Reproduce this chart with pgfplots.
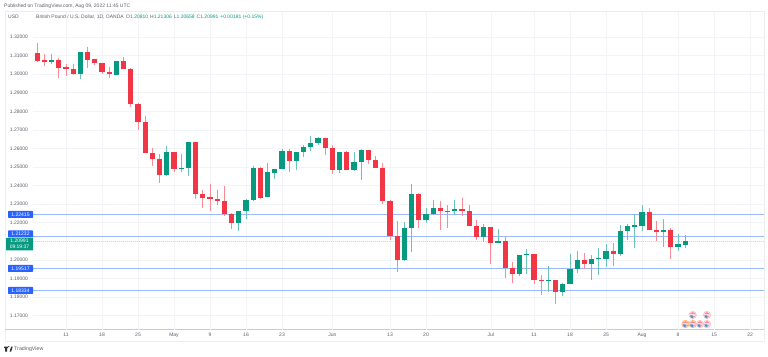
\documentclass[border=0pt]{standalone}
\usepackage{fontspec}
\setmainfont{Liberation Sans}
\usepackage{pgfplots}
\usepackage{pgfplotstable}
\pgfplotsset{compat=1.18}
\definecolor{tvred}{HTML}{F23645}
\definecolor{tvgreen}{HTML}{089981}
\definecolor{tvredw}{HTML}{F98A95}
\definecolor{tvgreenw}{HTML}{6CC4B4}
\definecolor{tvblue}{HTML}{2962FF}
\definecolor{tvline}{HTML}{9DB8FF}
\definecolor{tvgrid}{HTML}{F3F4F7}
\definecolor{tvtext}{HTML}{5D606B}
\definecolor{tvframe}{HTML}{EBEDF1}
\pgfplotstableread{
i o h l c
-2 1.3065 1.3106 1.3053 1.3074
2 1.3000 1.3117 1.2973 1.3117
7 1.2997 1.3069 1.2995 1.3069
14 1.2457 1.2615 1.2454 1.2578
16 1.2490 1.2569 1.2472 1.2497
17 1.2495 1.2637 1.2452 1.2637
24 1.2199 1.2262 1.2157 1.2262
25 1.2262 1.2330 1.2218 1.2321
26 1.2321 1.2503 1.2315 1.2495
28 1.2338 1.2524 1.2338 1.2471
29 1.2470 1.2491 1.2437 1.2491
30 1.2489 1.2599 1.2489 1.2588
32 1.2533 1.2583 1.2482 1.2583
33 1.2581 1.2617 1.2554 1.2608
34 1.2606 1.2667 1.2587 1.2631
35 1.2628 1.2662 1.2617 1.2655
38 1.2482 1.2579 1.2470 1.2579
40 1.2486 1.2578 1.2479 1.2529
41 1.2529 1.2599 1.2432 1.2590
47 1.1997 1.2203 1.1991 1.2173
48 1.2171 1.2407 1.2042 1.2353
50 1.2214 1.2281 1.2198 1.2248
51 1.2248 1.2324 1.2239 1.2277
54 1.2261 1.2320 1.2239 1.2275
58 1.2123 1.2191 1.2096 1.2178
60 1.2090 1.2164 1.2090 1.2099
63 1.1923 1.2026 1.1914 1.2026
64 1.2024 1.2056 1.1922 1.2033
67 1.1886 1.1968 1.1828 1.1889
69 1.1826 1.1875 1.1803 1.1869
70 1.1868 1.2033 1.1868 1.1950
71 1.1950 1.2046 1.1927 1.1999
73 1.1979 1.2028 1.1891 1.2002
74 1.2002 1.2065 1.1916 1.2008
75 1.2006 1.2087 1.1959 1.2049
77 1.2029 1.2186 1.2022 1.2157
78 1.2155 1.2191 1.2105 1.2181
79 1.2175 1.2245 1.2065 1.2186
80 1.2182 1.2294 1.2157 1.2256
83 1.2148 1.2218 1.2067 1.2159
85 1.2067 1.2139 1.2047 1.2083
86 1.2081 1.2131 1.2066 1.2099
}\upcandles
\pgfplotstableread{
i o h l c
-4 1.3115 1.3169 1.3067 1.3072
-3 1.3074 1.3106 1.3045 1.3065
-1 1.3074 1.3087 1.2982 1.3035
0 1.3036 1.3056 1.2990 1.3027
1 1.3029 1.3056 1.2995 1.3000
3 1.3117 1.3146 1.3033 1.3076
4 1.3080 1.3080 1.3051 1.3058
5 1.3058 1.3058 1.3002 1.3009
6 1.3011 1.3040 1.2982 1.2999
8 1.3069 1.3090 1.3026 1.3026
9 1.3027 1.3035 1.2824 1.2838
10 1.2838 1.2844 1.2698 1.2741
11 1.2741 1.2774 1.2574 1.2574
12 1.2574 1.2601 1.2504 1.2545
13 1.2545 1.2571 1.2414 1.2459
15 1.2578 1.2578 1.2473 1.2490
18 1.2637 1.2637 1.2328 1.2355
19 1.2357 1.2378 1.2278 1.2335
20 1.2337 1.2407 1.2262 1.2328
21 1.2330 1.2377 1.2294 1.2317
22 1.2317 1.2400 1.2238 1.2245
23 1.2249 1.2254 1.2168 1.2199
27 1.2493 1.2502 1.2331 1.2335
31 1.2588 1.2599 1.2473 1.2533
36 1.2655 1.2655 1.2563 1.2601
37 1.2601 1.2617 1.2461 1.2484
39 1.2579 1.2587 1.2486 1.2486
42 1.2590 1.2594 1.2515 1.2536
43 1.2536 1.2560 1.2493 1.2493
44 1.2497 1.2522 1.2302 1.2315
45 1.2317 1.2320 1.2108 1.2130
46 1.2130 1.2209 1.1935 1.1997
49 1.2353 1.2362 1.2171 1.2214
52 1.2277 1.2315 1.2162 1.2263
53 1.2263 1.2293 1.2171 1.2257
55 1.2275 1.2331 1.2236 1.2265
56 1.2265 1.2293 1.2182 1.2182
57 1.2182 1.2212 1.2108 1.2123
59 1.2178 1.2178 1.1975 1.2090
61 1.2100 1.2125 1.1900 1.1958
62 1.1958 1.1990 1.1877 1.1923
65 1.2033 1.2033 1.1869 1.1889
66 1.1891 1.1916 1.1810 1.1884
68 1.1889 1.1889 1.1762 1.1826
72 1.1999 1.2038 1.1952 1.1979
76 1.2049 1.2091 1.1965 1.2029
81 1.2256 1.2281 1.2161 1.2161
82 1.2163 1.2208 1.2100 1.2148
84 1.2159 1.2170 1.2003 1.2067
}\downcandles
\newcommand{\flag}[3]{%
  \fill[#3] (#1,#2) circle (4);
  \fill[white] (#1,#2) circle (3.3);
  \fill[tvred!55] (#1,#2) circle (2.9);
  \fill[white!60!tvred!50] (#1-2.6,#2+0.4) rectangle (#1+2.6,#2+1);
  \fill[white!60!tvred!50] (#1-2.6,#2-1) rectangle (#1+2.6,#2-0.4);
  \fill[blue!45!cyan!80!black!75] (#1-2.7,#2+0.4) arc (180:90:2.9) -- (#1,#2+0.4) -- cycle;
}
\begin{document}
\begin{tikzpicture}
\useasboundingbox (0,0) rectangle (768pt,356pt);
\fill[white] (0,0) rectangle (768pt,356pt);
\begin{scope}[x=1pt,y=-1pt,shift={(0,356pt)}]
\draw[tvframe,line width=0.6pt] (5,11.5) rectangle (764,341);
\draw[tvframe!70!gray,line width=0.6pt] (5,329.5) -- (764,329.5);
\end{scope}
\begin{axis}[
  at={(33pt,26.5pt)},anchor=south west,
  scale only axis,width=731pt,height=317.5pt,
  xmin=-4.583,xmax=96.94,ymin=1.16244,ymax=1.33349,
  axis line style={draw=none},
  major tick length=0pt,
  grid=major,grid style={tvgrid,line width=0.5pt},
  xtick={0,5,10,15,20,25,30,37,45,50,59,65,70,75,80,85,90,95},
  xticklabels={11,18,25,May,9,16,23,Jun,13,20,Jul,11,18,25,Aug,8,15,22},
  ytick={1.17,1.18,1.19,1.20,1.21,1.22,1.23,1.24,1.25,1.26,1.27,1.28,1.29,1.30,1.31,1.32},
  yticklabels={1.17000,1.18000,1.19000,1.20000,,1.22000,1.23000,1.24000,1.25000,1.26000,1.27000,1.28000,1.29000,1.30000,1.31000,1.32000},
  ticklabel style={font=\fontsize{5}{6}\selectfont,text=tvtext},
  yticklabel style={anchor=east,xshift=-1.5pt},
  xticklabel style={anchor=center,yshift=-5.5pt},
]
% horizontal levels
\addplot[tvline,line width=1pt,forget plot] coordinates {(-4.583,1.22415) (96.94,1.22415)};
\addplot[tvline,line width=1pt,forget plot] coordinates {(-4.583,1.21232) (96.94,1.21232)};
\addplot[tvline,line width=1pt,forget plot] coordinates {(-4.583,1.19517) (96.94,1.19517)};
\addplot[tvline,line width=1pt,forget plot] coordinates {(-4.583,1.18334) (96.94,1.18334)};
\addplot[tvgreen!25,densely dotted,line width=1pt,forget plot] coordinates {(-4.583,1.2100) (96.94,1.2100)};
% wicks
\addplot[draw=none,mark=none,forget plot,error bars/.cd,y dir=both,y explicit,error mark=none,
  error bar style={tvgreenw,line width=0.8pt}]
  table[x=i,y=c,y error plus expr=\thisrow{h}-\thisrow{c},y error minus expr=\thisrow{c}-\thisrow{l}] {\upcandles};
\addplot[draw=none,mark=none,forget plot,error bars/.cd,y dir=both,y explicit,error mark=none,
  error bar style={tvredw,line width=0.8pt}]
  table[x=i,y=c,y error plus expr=\thisrow{h}-\thisrow{c},y error minus expr=\thisrow{c}-\thisrow{l}] {\downcandles};
% bodies
\addplot[draw=none,mark=none,forget plot,error bars/.cd,y dir=plus,y explicit,error mark=none,
  error bar style={tvgreen,line width=5.2pt}]
  table[x=i,y=o,y error plus expr=\thisrow{c}-\thisrow{o}] {\upcandles};
\addplot[draw=none,mark=none,forget plot,error bars/.cd,y dir=plus,y explicit,error mark=none,
  error bar style={tvred,line width=5.2pt}]
  table[x=i,y=c,y error plus expr=\thisrow{o}-\thisrow{c}] {\downcandles};
\end{axis}
\begin{scope}[x=1pt,y=-1pt,shift={(0,356pt)}]
\tikzset{tx/.style={inner sep=0pt,font=\fontsize{5}{6}\selectfont,text=tvtext,anchor=west}}
\node[tx] at (4,6) {Published on TradingView.com, Aug 09, 2022 11:45 UTC};
\node[tx] at (8,17) {USD};
\node[tx] at (36,17) {British Pound / U.S. Dollar, 1D, OANDA};
\node[tx] at (126,17) {O\textcolor{tvgreen}{1.20810}\hspace{2pt}H\textcolor{tvgreen}{1.21306}\hspace{2pt}L\textcolor{tvgreen}{1.20658}\hspace{2pt}C\textcolor{tvgreen}{1.20991}\hspace{2pt}\textcolor{tvgreen}{+0.00181 (+0.15\%)}};
% price labels
\tikzset{pl/.style={fill=tvblue,rounded corners=0.6pt}}
\fill[pl] (8,211) rectangle (33,218);
\fill[pl] (8,230.5) rectangle (33,237.5);
\fill[pl] (8,265) rectangle (33,272);
\fill[pl] (8,287) rectangle (33,294);
\fill[tvgreen,rounded corners=0.6pt] (6,237.8) rectangle (33,250.5);
\tikzset{pt/.style={inner sep=0pt,font=\fontsize{5}{6}\selectfont,text=white,anchor=center}}
\node[pt] at (20.5,214.6) {1.22415};
\node[pt] at (20.5,234.1) {1.21232};
\node[pt] at (20.5,268.6) {1.19517};
\node[pt] at (20.5,290.6) {1.18334};
\node[pt] at (19.5,241) {1.20991};
\node[pt] at (19.5,247) {09:19:37};
% event icons
\flag{692.7}{315}{tvred!35}
\flag{707}{315}{tvred!35}
\flag{685.5}{324}{orange!70}
\flag{692.7}{324}{orange!70}
\flag{700}{324}{tvred!35}
\flag{707}{324}{tvred!35}
% TradingView logo
\fill[black!80] (4,346.5) rectangle (8.2,348) (5.2,348) rectangle (7,351.5);
\fill[black!80] (8.8,346.5) circle (0.7);
\fill[black!80] (9.6,351.5) -- (11.2,346.5) -- (12.8,346.5) -- (11.2,351.5) -- cycle;
\node[inner sep=0pt,font=\fontsize{5.3}{6}\selectfont,text=tvtext,anchor=west] at (14,349.2) {TradingView};
\end{scope}
\end{tikzpicture}
\end{document}
